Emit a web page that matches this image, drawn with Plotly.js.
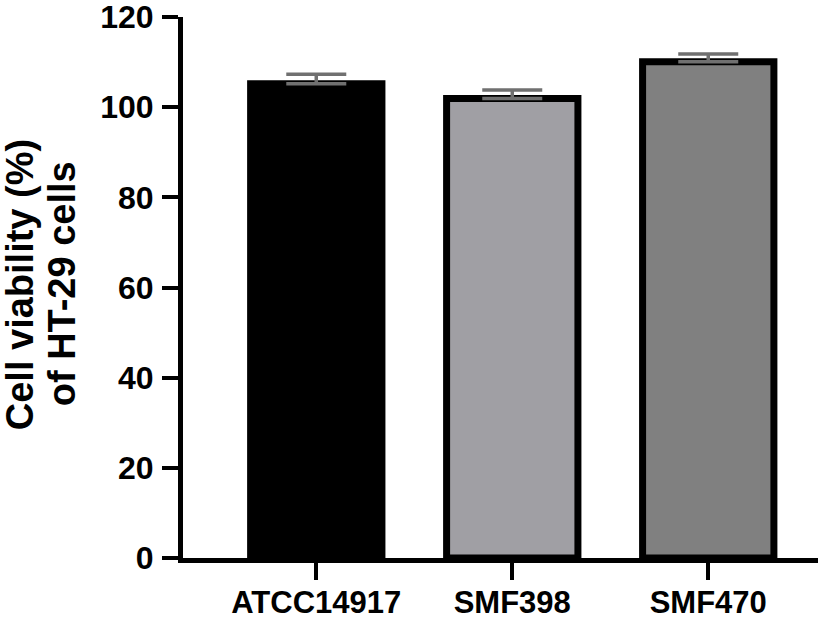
<!DOCTYPE html>
<html>
<head>
<meta charset="utf-8">
<script src="https://cdn.plot.ly/plotly-3.0.1.min.js"></script>
<style>html,body{margin:0;padding:0;background:#fff;}#chart{width:838px;height:619px;}</style>
</head>
<body>
<div id="chart"></div>
<script>
const categories = ['ATCC14917', 'SMF398', 'SMF470'];
const viability = [105.2, 101.9, 110.1];
const errors = [2.1, 1.9, 1.7];
const barColors = ['#000000', '#a09fa4', '#808080'];
const yTicks = [0, 20, 40, 60, 80, 100, 120];
const yTitleLines = ['Cell viability (%)', 'of HT-29 cells'];

const font = 'Liberation Sans, Arial, sans-serif';

const trace = {
  type: 'bar',
  x: categories,
  y: viability,
  width: 0.67,
  marker: { color: barColors, line: { color: '#000', width: 7 } },
  error_y: { type: 'data', array: errors, arrayminus: errors.map(() => 0), symmetric: false,
             color: '#707070', thickness: 3.5, width: 30 },
  hoverinfo: 'none'
};

const titleX = [-0.2567, -0.1905];
const annotations = yTitleLines.map((t, i) => ({
  text: '<b>' + t + '</b>',
  xref: 'paper', yref: 'paper',
  x: titleX[i], y: 0.506,
  xanchor: 'center', yanchor: 'middle',
  textangle: -90, showarrow: false,
  font: { family: font, size: 38, color: '#000' }
}));

const layout = {
  width: 838, height: 619,
  margin: { l: 183, r: 20, t: 17, b: 61 },
  paper_bgcolor: '#fff', plot_bgcolor: '#fff',
  showlegend: false,
  font: { family: font, color: '#000' },
  annotations: annotations,
  xaxis: {
    type: 'category',
    range: [-0.68, 2.56],
    showline: true, linecolor: '#000', linewidth: 5,
    ticks: 'outside', ticklen: 17, tickwidth: 4, tickcolor: '#000',
    ticklabelstandoff: -4,
    ticklabeloverflow: 'allow',
    tickfont: { family: font, size: 31, color: '#000', weight: 'bold' },
    showgrid: false, zeroline: false, fixedrange: true
  },
  yaxis: {
    range: [0, 120],
    tickvals: yTicks,
    ticktext: yTicks.map(String),
    showline: true, linecolor: '#000', linewidth: 5,
    ticks: 'outside', ticklen: 16, tickwidth: 4, tickcolor: '#000',
    ticklabelstandoff: 2,
    ticklabeloverflow: 'allow',
    tickfont: { family: font, size: 32, color: '#000', weight: 'bold' },
    showgrid: false, zeroline: false, fixedrange: true
  }
};

Plotly.newPlot('chart', [trace], layout, { displayModeBar: false, staticPlot: true });
</script>
</body>
</html>
